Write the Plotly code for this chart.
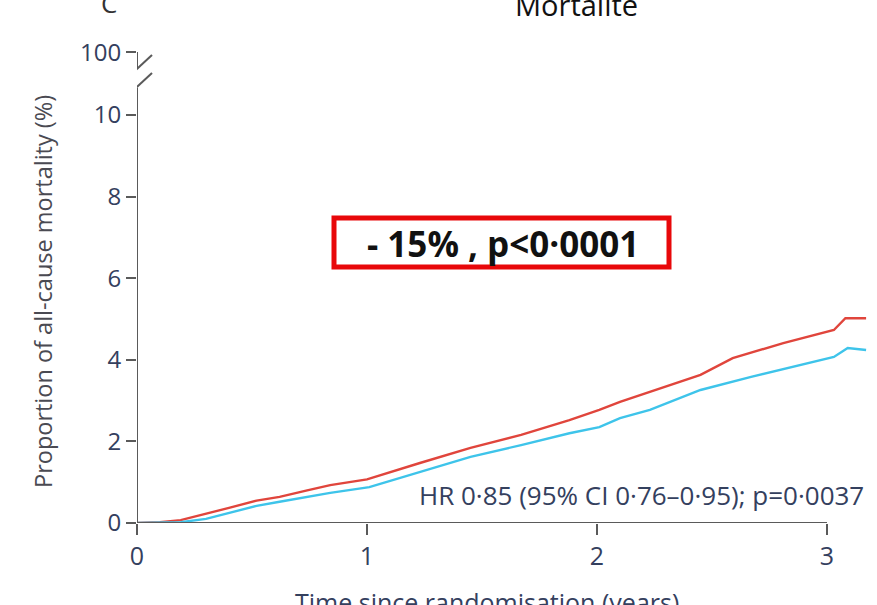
import plotly.graph_objects as go

# ---- data (years, % cumulative all-cause mortality) ----
t_red = [0, 0.10, 0.19, 0.30, 0.40, 0.52, 0.62, 0.74, 0.84, 1.00, 1.10, 1.23, 1.45, 1.67, 1.88,
         2.01, 2.10, 2.23, 2.45, 2.59, 2.81, 3.03, 3.08, 3.17]
y_red = [0, 0.02, 0.07, 0.22, 0.37, 0.55, 0.64, 0.80, 0.93, 1.07, 1.25, 1.47, 1.84, 2.16, 2.52,
         2.77, 2.97, 3.21, 3.63, 4.04, 4.41, 4.73, 5.02, 5.02]
t_cyan = [0, 0.19, 0.30, 0.40, 0.52, 0.62, 0.84, 1.01, 1.10, 1.23, 1.45, 1.67, 1.88,
          2.01, 2.10, 2.23, 2.45, 2.67, 2.89, 3.03, 3.09, 3.17]
y_cyan = [0, 0.02, 0.10, 0.24, 0.42, 0.52, 0.74, 0.88, 1.03, 1.25, 1.62, 1.91, 2.20,
          2.35, 2.57, 2.77, 3.26, 3.58, 3.87, 4.07, 4.29, 4.24]

x_tickvals = [0, 1, 2, 3]
x_ticktext = ["0", "1", "2", "3"]
y_tickvals = [0, 2, 4, 6, 8, 10, 11.54]
y_ticktext = ["0", "2", "4", "6", "8", "10", "100"]

title_text = "Mortalité"
panel_text = "C"
box_text = "<b>- 15% , p<0·0001</b>"
hr_text = "HR 0·85 (95% CI 0·76–0·95); p=0·0037"
y_title = "Proportion of all-cause mortality (%)"
x_title = "Time since randomisation (years)"

W, H = 877, 605
L, R, T, B = 137, 4, 40, 82
XPU = 230.0   # px per year
YPU = 40.8    # px per percent
XMAX = (W - L - R) / XPU
YMAX = (H - T - B) / YPU

def dx(px):
    return (px - L) / XPU

def dy(py):
    return (H - B - py) / YPU

def px_x(px):
    return (px - L) / (W - L - R)

def px_y(py):
    return (H - B - py) / (H - T - B)

axis_col = "#5a5a5a"
lab_col = "#34405e"
sans = "Open Sans, Noto Sans, sans-serif"

fig = go.Figure()
fig.add_trace(go.Scatter(x=t_red, y=y_red, mode="lines",
                         line=dict(color="#e0453c", width=2.4), showlegend=False))
fig.add_trace(go.Scatter(x=t_cyan, y=y_cyan, mode="lines",
                         line=dict(color="#3ec4ea", width=2.4), showlegend=False))

line = dict(color=axis_col, width=2)
shapes = [
    dict(type="line", xref="x", yref="y", x0=0, x1=3, y0=0, y1=0, line=line),
    dict(type="line", xref="x", yref="y", x0=0, x1=0, y0=0, y1=dy(88), line=line),
    dict(type="line", xref="x", yref="y", x0=0, x1=0, y0=dy(52), y1=dy(68), line=line),
    dict(type="line", xref="x", yref="y", x0=dx(123), x1=dx(152), y0=dy(82), y1=dy(55), line=line),
    dict(type="line", xref="x", yref="y", x0=dx(123), x1=dx(152), y0=dy(100), y1=dy(73), line=line),
    dict(type="rect", xref="paper", yref="paper", x0=px_x(334), x1=px_x(669), y0=px_y(218), y1=px_y(267),
         line=dict(color="#e8080a", width=5), fillcolor="white", layer="above"),
]

annotations = [
    dict(text=box_text, xref="paper", yref="paper", x=px_x(503), y=px_y(243), showarrow=False,
         font=dict(family=sans, size=35, color="#111111"),
         xanchor="center", yanchor="middle"),
    dict(text=hr_text, xref="paper", yref="paper", x=px_x(866), y=px_y(495), showarrow=False,
         font=dict(family=sans, size=26, color=lab_col), xanchor="right", yanchor="middle"),
    dict(text=title_text, xref="paper", yref="paper", x=px_x(576), y=px_y(4), showarrow=False,
         font=dict(family=sans, size=29, color="#111111"),
         xanchor="center", yanchor="middle"),
    dict(text=panel_text, xref="paper", yref="paper", x=px_x(109), y=px_y(3), showarrow=False,
         font=dict(family=sans, size=26, color="#333333"), xanchor="center", yanchor="middle"),
    dict(text=y_title, xref="paper", yref="paper", x=px_x(43), y=px_y(292), showarrow=False,
         textangle=-90, font=dict(family=sans, size=23.5, color="#4a4a52"),
         xanchor="center", yanchor="middle"),
    dict(text=x_title, xref="paper", yref="paper", x=px_x(487), y=px_y(602), showarrow=False,
         font=dict(family=sans, size=25, color=lab_col), xanchor="center", yanchor="middle"),
]

fig.update_layout(
    width=W, height=H,
    margin=dict(l=L, r=R, t=T, b=B),
    paper_bgcolor="white", plot_bgcolor="white",
    shapes=shapes, annotations=annotations,
    xaxis=dict(range=[0, XMAX], tickvals=x_tickvals, ticktext=x_ticktext,
               showgrid=False, zeroline=False, showline=False,
               ticks="outside", ticklen=11, tickwidth=2, tickcolor=axis_col,
               tickfont=dict(family=sans, size=25, color=lab_col)),
    yaxis=dict(range=[0, YMAX], tickvals=y_tickvals, ticktext=y_ticktext,
               showgrid=False, zeroline=False, showline=False,
               ticks="outside", ticklen=10, tickwidth=2, tickcolor=axis_col,
               tickfont=dict(family=sans, size=24, color=lab_col)),
)

fig.write_html("out.html", config={"displayModeBar": False},
               post_script="document.body.style.margin='0';document.body.style.overflow='hidden';")
